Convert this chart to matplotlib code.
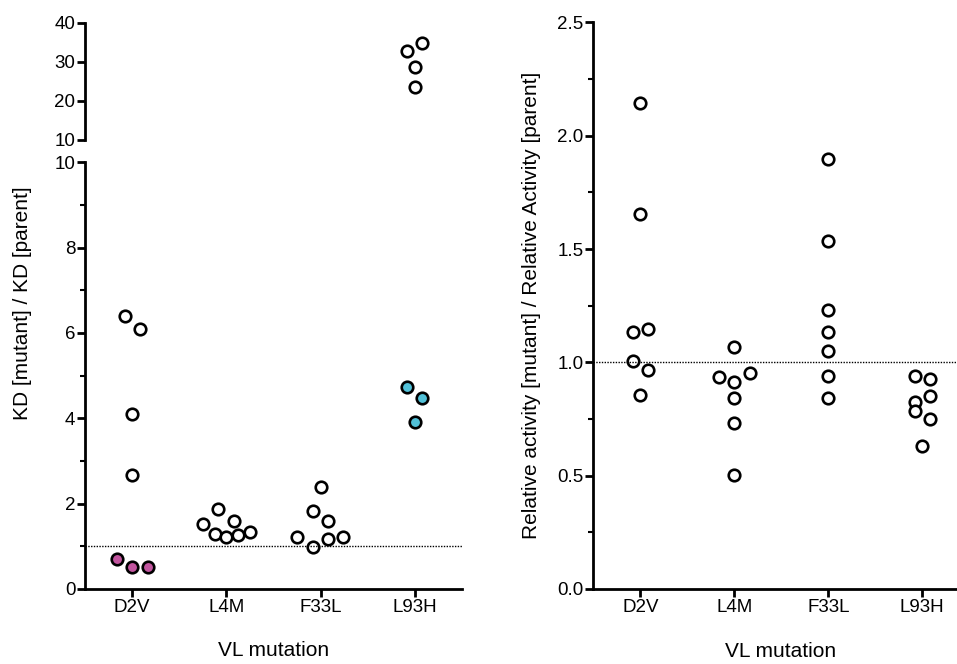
import matplotlib
matplotlib.use("Agg")
import matplotlib.pyplot as plt
from matplotlib.ticker import MultipleLocator, FormatStrFormatter

plt.rcParams['font.family'] = ['Liberation Sans', 'DejaVu Sans']

mutations = ['D2V', 'L4M', 'F33L', 'L93H']

# left panel: KD ratio, (category index, jitter offset, value)
kd_open_x = [0, 0, 0, 0,
             1, 1, 1, 1, 1, 1, 1,
             2, 2, 2, 2, 2, 2, 2]
kd_open_dx = [-0.08, 0.08, 0, 0,
              -0.25, -0.085, 0.08, -0.125, 0, 0.125, 0.25,
              -0.245, -0.085, 0, 0.08, -0.085, 0.08, 0.24]
kd_open_y = [6.40, 6.10, 4.11, 2.66,
             1.52, 1.88, 1.60, 1.29, 1.21, 1.27, 1.33,
             1.22, 1.83, 2.40, 1.60, 0.99, 1.16, 1.22]
kd_high_dx = [-0.08, 0.08, 0, 0]
kd_high_y = [32.8, 34.7, 28.75, 23.5]
kd_magenta_dx = [-0.165, 0, 0.165]
kd_magenta_y = [0.71, 0.52, 0.52]
kd_cyan_dx = [-0.08, 0.08, 0]
kd_cyan_y = [4.74, 4.47, 3.91]

# right panel: relative activity
act_x = [0] * 7 + [1] * 7 + [2] * 7 + [3] * 7
act_dx = [0, 0, -0.08, 0.08, -0.08, 0.08, 0,
          0, -0.163, 0, 0.163, 0, 0, 0,
          0, 0, 0, 0, 0, 0, 0,
          -0.078, 0.08, -0.078, 0.08, -0.078, 0.08, 0]
act_y = [2.145, 1.655, 1.134, 1.149, 1.008, 0.967, 0.854,
         1.067, 0.936, 0.913, 0.953, 0.842, 0.732, 0.501,
         1.899, 1.535, 1.229, 1.134, 1.050, 0.938, 0.841,
         0.938, 0.926, 0.825, 0.853, 0.787, 0.751, 0.633]

magenta = '#c2559f'
cyan = '#52c1d8'
ms = 8.3
mew = 1.9
fs = 13.5
lfs = 15

fig = plt.figure(figsize=(9.57, 6.64), dpi=100)
ax_lo = fig.add_axes([0.0888, 0.1130, 0.3939, 0.6426])
ax_hi = fig.add_axes([0.0888, 0.7892, 0.3939, 0.1767])
ax_r = fig.add_axes([0.620, 0.1130, 0.380, 0.8533])


def style(ax):
    for s in ['top', 'right']:
        ax.spines[s].set_visible(False)
    for s in ['left', 'bottom']:
        ax.spines[s].set_linewidth(2)
    ax.tick_params(which='major', length=5.5, width=2, labelsize=fs, pad=1.5)
    ax.tick_params(which='minor', length=3.5, width=1.5)
    ax.tick_params(axis='x', which='minor', bottom=False)


def xs(cats, dxs):
    return [c + d for c, d in zip(cats, dxs)]


# lower left
style(ax_lo)
ax_lo.plot(xs(kd_open_x, kd_open_dx), kd_open_y, 'o', ms=ms, mfc='white', mec='black', mew=mew)
ax_lo.plot(xs([0] * 3, kd_magenta_dx), kd_magenta_y, 'o', ms=ms, mfc=magenta, mec='black', mew=mew)
ax_lo.plot(xs([3] * 3, kd_cyan_dx), kd_cyan_y, 'o', ms=ms, mfc=cyan, mec='black', mew=mew)
ax_lo.axhline(1, color='black', lw=1, ls=(0, (1, 1)))
ax_lo.set_xlim(-0.5, 3.5)
ax_lo.set_ylim(0, 10)
ax_lo.yaxis.set_major_locator(MultipleLocator(2))
ax_lo.yaxis.set_minor_locator(MultipleLocator(1))
ax_lo.set_xticks(range(len(mutations)))
ax_lo.set_xticklabels(mutations)
ax_lo.set_xlabel('VL mutation', fontsize=lfs)
ax_lo.xaxis.set_label_coords(0.5, -0.121)

# upper left (broken axis)
style(ax_hi)
ax_hi.spines['bottom'].set_visible(False)
ax_hi.tick_params(axis='x', which='both', bottom=False, labelbottom=False)
ax_hi.plot(xs([3] * 4, kd_high_dx), kd_high_y, 'o', ms=ms, mfc='white', mec='black', mew=mew)
ax_hi.set_xlim(-0.5, 3.5)
ax_hi.set_ylim(10, 40)
ax_hi.set_yticks([10, 20, 30, 40])
ax_hi.patch.set_alpha(0)

fig.text(23 / 957, 1 - 303.5 / 664, 'KD [mutant] / KD [parent]', rotation=90,
         ha='center', va='center', fontsize=lfs)

# right panel
style(ax_r)
ax_r.plot(xs(act_x, act_dx), act_y, 'o', ms=ms, mfc='white', mec='black', mew=mew)
ax_r.axhline(1, color='black', lw=1, ls=(0, (1, 1)))
ax_r.set_xlim(-0.5, 3.37)
ax_r.set_ylim(0, 2.5)
ax_r.yaxis.set_major_locator(MultipleLocator(0.5))
ax_r.yaxis.set_minor_locator(MultipleLocator(0.25))
ax_r.yaxis.set_major_formatter(FormatStrFormatter('%.1f'))
ax_r.set_xticks(range(len(mutations)))
ax_r.set_xticklabels(mutations)
ax_r.set_xlabel('VL mutation', fontsize=lfs)
ax_r.xaxis.set_label_coords(0.515, -0.094)
ax_r.set_ylabel('Relative activity [mutant] / Relative Activity [parent]', fontsize=lfs)
ax_r.yaxis.set_label_coords(-0.145, 0.5)

fig.savefig('out.png', dpi=100)
